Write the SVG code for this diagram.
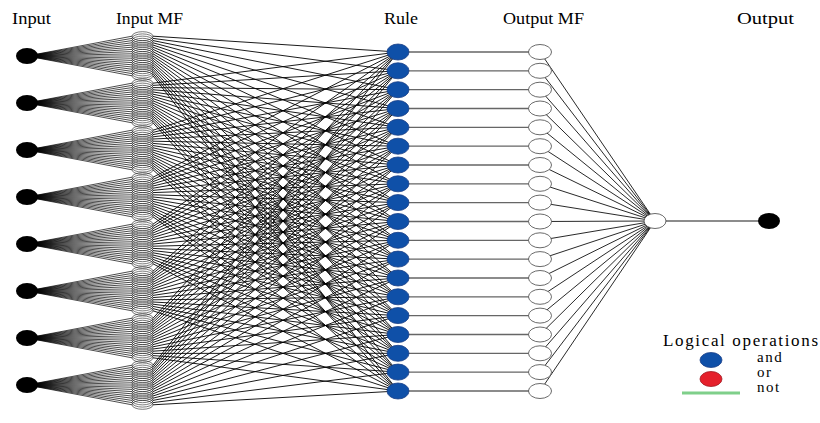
<svg xmlns="http://www.w3.org/2000/svg" xmlns:xlink="http://www.w3.org/1999/xlink" width="820" height="423" viewBox="0 0 820 423">
<style>
.lbl{font-family:"Liberation Serif","Times New Roman",serif;font-size:17px;fill:#000}
.leg{font-family:"Liberation Serif","Times New Roman",serif;font-size:15px;fill:#000;letter-spacing:1.5px}
.fan{stroke:#000;stroke-width:0.7;fill:none}
.mf{fill:none;stroke:#222;stroke-width:0.6}
.w{stroke:#000;stroke-width:0.9;fill:none}
.h{stroke:#666;stroke-width:1.3}
.o{stroke:#111;stroke-width:0.9}
.rule{fill:#0f50a8;stroke:#1b3f86;stroke-width:0.8}
.omf{fill:#fff;stroke:#444;stroke-width:0.8}
.blk{fill:#000}
</style>
<defs>
<path id="fan" class="fan" d="M27 0L132 -19.8M27 0L132 -17.6M27 0L132 -15.4M27 0L132 -13.2M27 0L132 -11M27 0L132 -8.8M27 0L132 -6.6M27 0L132 -4.4M27 0L132 -2.2M27 0L132 0M27 0L132 2.2M27 0L132 4.4M27 0L132 6.6M27 0L132 8.8M27 0L132 11M27 0L132 13.2M27 0L132 15.4M27 0L132 17.6M27 0L132 19.8"/>
<g id="stack" class="mf">
<ellipse cx="142.5" cy="-19.8" rx="10.5" ry="4.5"/><ellipse cx="142.5" cy="-17.6" rx="10.5" ry="4.5"/><ellipse cx="142.5" cy="-15.4" rx="10.5" ry="4.5"/><ellipse cx="142.5" cy="-13.2" rx="10.5" ry="4.5"/><ellipse cx="142.5" cy="-11" rx="10.5" ry="4.5"/><ellipse cx="142.5" cy="-8.8" rx="10.5" ry="4.5"/><ellipse cx="142.5" cy="-6.6" rx="10.5" ry="4.5"/><ellipse cx="142.5" cy="-4.4" rx="10.5" ry="4.5"/><ellipse cx="142.5" cy="-2.2" rx="10.5" ry="4.5"/><ellipse cx="142.5" cy="0" rx="10.5" ry="4.5"/><ellipse cx="142.5" cy="2.2" rx="10.5" ry="4.5"/><ellipse cx="142.5" cy="4.4" rx="10.5" ry="4.5"/><ellipse cx="142.5" cy="6.6" rx="10.5" ry="4.5"/><ellipse cx="142.5" cy="8.8" rx="10.5" ry="4.5"/><ellipse cx="142.5" cy="11" rx="10.5" ry="4.5"/><ellipse cx="142.5" cy="13.2" rx="10.5" ry="4.5"/><ellipse cx="142.5" cy="15.4" rx="10.5" ry="4.5"/><ellipse cx="142.5" cy="17.6" rx="10.5" ry="4.5"/><ellipse cx="142.5" cy="19.8" rx="10.5" ry="4.5"/>
</g>
</defs>
<rect width="820" height="423" fill="#fff"/>
<g id="labels" class="lbl">
<text x="12" y="24" textLength="39" lengthAdjust="spacingAndGlyphs">Input</text>
<text x="116" y="24" textLength="67" lengthAdjust="spacingAndGlyphs">Input MF</text>
<text x="384" y="24" textLength="34" lengthAdjust="spacingAndGlyphs">Rule</text>
<text x="503" y="24" textLength="81" lengthAdjust="spacingAndGlyphs">Output MF</text>
<text x="737" y="24" textLength="57" lengthAdjust="spacingAndGlyphs">Output</text>
</g>
<g id="connectors">
<use xlink:href="#fan" href="#fan" y="56"/>
<use xlink:href="#fan" href="#fan" y="103"/>
<use xlink:href="#fan" href="#fan" y="150"/>
<use xlink:href="#fan" href="#fan" y="197"/>
<use xlink:href="#fan" href="#fan" y="244"/>
<use xlink:href="#fan" href="#fan" y="291"/>
<use xlink:href="#fan" href="#fan" y="338"/>
<use xlink:href="#fan" href="#fan" y="385"/>
<g class="w">
<path d="M153 36.2L398 52M153 83.2L398 52M153 130.2L398 52M153 177.2L398 52M153 224.2L398 52M153 271.2L398 52M153 318.2L398 52M153 365.2L398 52"/>
<path d="M153 38.4L398 70.8M153 85.4L398 70.8M153 132.4L398 70.8M153 179.4L398 70.8M153 226.4L398 70.8M153 273.4L398 70.8M153 320.4L398 70.8M153 367.4L398 70.8"/>
<path d="M153 40.6L398 89.7M153 87.6L398 89.7M153 134.6L398 89.7M153 181.6L398 89.7M153 228.6L398 89.7M153 275.6L398 89.7M153 322.6L398 89.7M153 369.6L398 89.7"/>
<path d="M153 42.8L398 108.5M153 89.8L398 108.5M153 136.8L398 108.5M153 183.8L398 108.5M153 230.8L398 108.5M153 277.8L398 108.5M153 324.8L398 108.5M153 371.8L398 108.5"/>
<path d="M153 45L398 127.3M153 92L398 127.3M153 139L398 127.3M153 186L398 127.3M153 233L398 127.3M153 280L398 127.3M153 327L398 127.3M153 374L398 127.3"/>
<path d="M153 47.2L398 146.2M153 94.2L398 146.2M153 141.2L398 146.2M153 188.2L398 146.2M153 235.2L398 146.2M153 282.2L398 146.2M153 329.2L398 146.2M153 376.2L398 146.2"/>
<path d="M153 49.4L398 165M153 96.4L398 165M153 143.4L398 165M153 190.4L398 165M153 237.4L398 165M153 284.4L398 165M153 331.4L398 165M153 378.4L398 165"/>
<path d="M153 51.6L398 183.8M153 98.6L398 183.8M153 145.6L398 183.8M153 192.6L398 183.8M153 239.6L398 183.8M153 286.6L398 183.8M153 333.6L398 183.8M153 380.6L398 183.8"/>
<path d="M153 53.8L398 202.6M153 100.8L398 202.6M153 147.8L398 202.6M153 194.8L398 202.6M153 241.8L398 202.6M153 288.8L398 202.6M153 335.8L398 202.6M153 382.8L398 202.6"/>
<path d="M153 56L398 221.5M153 103L398 221.5M153 150L398 221.5M153 197L398 221.5M153 244L398 221.5M153 291L398 221.5M153 338L398 221.5M153 385L398 221.5"/>
<path d="M153 58.2L398 240.3M153 105.2L398 240.3M153 152.2L398 240.3M153 199.2L398 240.3M153 246.2L398 240.3M153 293.2L398 240.3M153 340.2L398 240.3M153 387.2L398 240.3"/>
<path d="M153 60.4L398 259.1M153 107.4L398 259.1M153 154.4L398 259.1M153 201.4L398 259.1M153 248.4L398 259.1M153 295.4L398 259.1M153 342.4L398 259.1M153 389.4L398 259.1"/>
<path d="M153 62.6L398 278M153 109.6L398 278M153 156.6L398 278M153 203.6L398 278M153 250.6L398 278M153 297.6L398 278M153 344.6L398 278M153 391.6L398 278"/>
<path d="M153 64.8L398 296.8M153 111.8L398 296.8M153 158.8L398 296.8M153 205.8L398 296.8M153 252.8L398 296.8M153 299.8L398 296.8M153 346.8L398 296.8M153 393.8L398 296.8"/>
<path d="M153 67L398 315.6M153 114L398 315.6M153 161L398 315.6M153 208L398 315.6M153 255L398 315.6M153 302L398 315.6M153 349L398 315.6M153 396L398 315.6"/>
<path d="M153 69.2L398 334.5M153 116.2L398 334.5M153 163.2L398 334.5M153 210.2L398 334.5M153 257.2L398 334.5M153 304.2L398 334.5M153 351.2L398 334.5M153 398.2L398 334.5"/>
<path d="M153 71.4L398 353.3M153 118.4L398 353.3M153 165.4L398 353.3M153 212.4L398 353.3M153 259.4L398 353.3M153 306.4L398 353.3M153 353.4L398 353.3M153 400.4L398 353.3"/>
<path d="M153 73.6L398 372.1M153 120.6L398 372.1M153 167.6L398 372.1M153 214.6L398 372.1M153 261.6L398 372.1M153 308.6L398 372.1M153 355.6L398 372.1M153 402.6L398 372.1"/>
<path d="M153 75.8L398 391M153 122.8L398 391M153 169.8L398 391M153 216.8L398 391M153 263.8L398 391M153 310.8L398 391M153 357.8L398 391M153 404.8L398 391"/>
</g>
<path class="h" d="M398 52H540M398 70.8H540M398 89.7H540M398 108.5H540M398 127.3H540M398 146.2H540M398 165H540M398 183.8H540M398 202.6H540M398 221.5H540M398 240.3H540M398 259.1H540M398 278H540M398 296.8H540M398 315.6H540M398 334.5H540M398 353.3H540M398 372.1H540M398 391H540"/>
<path class="o" d="M540 52L655 221M540 70.8L655 221M540 89.7L655 221M540 108.5L655 221M540 127.3L655 221M540 146.2L655 221M540 165L655 221M540 183.8L655 221M540 202.6L655 221M540 221.5L655 221M540 240.3L655 221M540 259.1L655 221M540 278L655 221M540 296.8L655 221M540 315.6L655 221M540 334.5L655 221M540 353.3L655 221M540 372.1L655 221M540 391L655 221"/>
<path class="h" d="M655 221H769"/>
</g>
<g id="inputs" class="blk">
<ellipse id="in1" cx="27" cy="56" rx="11" ry="8"/>
<ellipse id="in2" cx="27" cy="103" rx="11" ry="8"/>
<ellipse id="in3" cx="27" cy="150" rx="11" ry="8"/>
<ellipse id="in4" cx="27" cy="197" rx="11" ry="8"/>
<ellipse id="in5" cx="27" cy="244" rx="11" ry="8"/>
<ellipse id="in6" cx="27" cy="291" rx="11" ry="8"/>
<ellipse id="in7" cx="27" cy="338" rx="11" ry="8"/>
<ellipse id="in8" cx="27" cy="385" rx="11" ry="8"/>
</g>
<g id="inputmf">
<use xlink:href="#stack" href="#stack" y="56"/>
<use xlink:href="#stack" href="#stack" y="103"/>
<use xlink:href="#stack" href="#stack" y="150"/>
<use xlink:href="#stack" href="#stack" y="197"/>
<use xlink:href="#stack" href="#stack" y="244"/>
<use xlink:href="#stack" href="#stack" y="291"/>
<use xlink:href="#stack" href="#stack" y="338"/>
<use xlink:href="#stack" href="#stack" y="385"/>
</g>
<g id="rules" class="rule">
<ellipse cx="398" cy="52" rx="11" ry="8"/><ellipse cx="398" cy="70.8" rx="11" ry="8"/><ellipse cx="398" cy="89.7" rx="11" ry="8"/><ellipse cx="398" cy="108.5" rx="11" ry="8"/><ellipse cx="398" cy="127.3" rx="11" ry="8"/><ellipse cx="398" cy="146.2" rx="11" ry="8"/><ellipse cx="398" cy="165" rx="11" ry="8"/><ellipse cx="398" cy="183.8" rx="11" ry="8"/><ellipse cx="398" cy="202.6" rx="11" ry="8"/><ellipse cx="398" cy="221.5" rx="11" ry="8"/><ellipse cx="398" cy="240.3" rx="11" ry="8"/><ellipse cx="398" cy="259.1" rx="11" ry="8"/><ellipse cx="398" cy="278" rx="11" ry="8"/><ellipse cx="398" cy="296.8" rx="11" ry="8"/><ellipse cx="398" cy="315.6" rx="11" ry="8"/><ellipse cx="398" cy="334.5" rx="11" ry="8"/><ellipse cx="398" cy="353.3" rx="11" ry="8"/><ellipse cx="398" cy="372.1" rx="11" ry="8"/><ellipse cx="398" cy="391" rx="11" ry="8"/>
</g>
<g id="outputmf" class="omf">
<ellipse cx="540" cy="52" rx="11.5" ry="7.5"/><ellipse cx="540" cy="70.8" rx="11.5" ry="7.5"/><ellipse cx="540" cy="89.7" rx="11.5" ry="7.5"/><ellipse cx="540" cy="108.5" rx="11.5" ry="7.5"/><ellipse cx="540" cy="127.3" rx="11.5" ry="7.5"/><ellipse cx="540" cy="146.2" rx="11.5" ry="7.5"/><ellipse cx="540" cy="165" rx="11.5" ry="7.5"/><ellipse cx="540" cy="183.8" rx="11.5" ry="7.5"/><ellipse cx="540" cy="202.6" rx="11.5" ry="7.5"/><ellipse cx="540" cy="221.5" rx="11.5" ry="7.5"/><ellipse cx="540" cy="240.3" rx="11.5" ry="7.5"/><ellipse cx="540" cy="259.1" rx="11.5" ry="7.5"/><ellipse cx="540" cy="278" rx="11.5" ry="7.5"/><ellipse cx="540" cy="296.8" rx="11.5" ry="7.5"/><ellipse cx="540" cy="315.6" rx="11.5" ry="7.5"/><ellipse cx="540" cy="334.5" rx="11.5" ry="7.5"/><ellipse cx="540" cy="353.3" rx="11.5" ry="7.5"/><ellipse cx="540" cy="372.1" rx="11.5" ry="7.5"/><ellipse cx="540" cy="391" rx="11.5" ry="7.5"/>
</g>
<g id="sum"><ellipse class="omf" cx="655" cy="221" rx="11" ry="7.5"/></g>
<g id="output"><ellipse class="blk" cx="769" cy="221" rx="11" ry="8"/></g>
<g id="legend">
<text class="lbl" x="663" y="346" textLength="155" lengthAdjust="spacing">Logical operations</text>
<ellipse cx="711" cy="360" rx="11" ry="7.5" fill="#0f50a8" stroke="#1b3f86" stroke-width="0.8"/>
<ellipse cx="711" cy="379" rx="11" ry="7.5" fill="#e5202b" stroke="#a01820" stroke-width="0.8"/>
<line x1="682" y1="393" x2="740" y2="393" stroke="#7fcf8a" stroke-width="3"/>
<text class="leg" x="757" y="362">and</text>
<text class="leg" x="757" y="377">or</text>
<text class="leg" x="757" y="392">not</text>
</g>
</svg>
